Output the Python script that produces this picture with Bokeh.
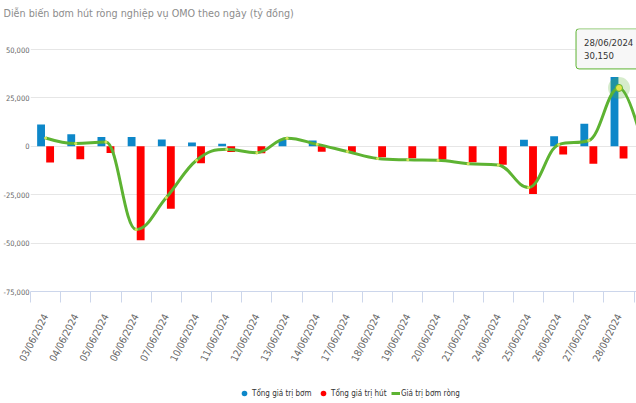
from bokeh.plotting import figure
from bokeh.layouts import column
from bokeh.models import (Range1d, FixedTicker, NumeralTickFormatter, Legend, LegendItem,
                          Label, ColumnDataSource)
from bokeh.embed import file_html
from bokeh.resources import INLINE

# ---------------- data ----------------
title_text = "Diễn biến bơm hút ròng nghiệp vụ OMO theo ngày (tỷ đồng)"
dates = ["03/06/2024", "04/06/2024", "05/06/2024", "06/06/2024", "07/06/2024",
         "10/06/2024", "11/06/2024", "12/06/2024", "13/06/2024", "14/06/2024",
         "17/06/2024", "18/06/2024", "19/06/2024", "20/06/2024", "21/06/2024",
         "24/06/2024", "25/06/2024", "26/06/2024", "27/06/2024", "28/06/2024",
         "01/07/2024"]
tong_bom = [11200, 6200, 4800, 4800, 3500, 2000, 1300, 0, 3400, 3000,
            0, 0, 0, 0, 0, 0, 3400, 5200, 11600, 35800, 0]
tong_hut = [-8400, -6700, -3400, -48500, -32200, -8800, -3000, -3600, 0, -2800,
            -3000, -5700, -6200, -6800, -8300, -9500, -24600, -4300, -9000, -6300, -13000]
bom_rong = [4300, 1400, 2200, -43000, -26500, -7200, -1500, -3300, 4200, 1000,
            -2700, -6300, -7000, -7200, -9000, -9700, -21300, 900, 3000, 30150, -13000]
y_ticks = [-75000, -50000, -25000, 0, 25000, 50000]
series_names = ["Tổng giá trị bơm", "Tổng giá trị hút", "Giá trị bơm ròng"]
highlight_date = "28/06/2024"

# ---------------- style ----------------
BLUE = "#0d87c9"
RED = "#ff0000"
GREEN = "#5db332"
FONT = "DejaVu Sans Condensed"

n = len(dates)
idx = list(range(n))

W = 636
H_TITLE, H_MAIN, H_LEG = 28, 344, 31
MB_LEFT = 27
TICK_SPAN_PX = 242
EXTRA_TOP_PX = 21
FRAME_H = TICK_SPAN_PX + EXTRA_TOP_PX
MB_BOTTOM = H_MAIN - FRAME_H
CAT_PX = 30.33
x_start = -0.5
x_end = x_start + (W - MB_LEFT) / CAT_PX
y_span = y_ticks[-1] - y_ticks[0]
y_end = y_ticks[-1] + EXTRA_TOP_PX * y_span / TICK_SPAN_PX

# ---- title strip ----
pt = figure(width=W, height=H_TITLE, output_backend="svg", toolbar_location=None,
            x_axis_location=None, y_axis_location=None,
            min_border_left=0, min_border_right=0, min_border_top=0, min_border_bottom=0,
            x_range=Range1d(0, 1), y_range=Range1d(0, 1))
pt.grid.visible = False
pt.outline_line_color = None
pt.title.text = title_text
pt.title.text_font = FONT
pt.title.text_font_size = "10.7px"
pt.title.text_font_style = "normal"
pt.title.text_color = "#8c8c8c"
pt.title.align = "left"
pt.title.offset = -27
pt.title.standoff = 8

# ---- main chart ----
p = figure(width=W, height=H_MAIN, output_backend="svg", toolbar_location=None,
           x_range=Range1d(x_start, x_end), y_range=Range1d(y_ticks[0], y_end),
           min_border_left=MB_LEFT, min_border_right=0, min_border_top=0,
           min_border_bottom=MB_BOTTOM)
p.outline_line_color = None
p.background_fill_color = "white"
p.border_fill_color = "white"

src = ColumnDataSource(dict(
    x=idx,
    xb=[i - 0.15 for i in idx],
    xr=[i + 0.15 for i in idx],
    bom=tong_bom, hut=tong_hut, net=bom_rong, date=dates))
p.vbar(x="xb", width=0.26, top="bom", bottom=0, source=src,
       fill_color=BLUE, line_color=None)
p.vbar(x="xr", width=0.26, top=0, bottom="hut", source=src,
       fill_color=RED, line_color=None)


def spline_segments(xs, ys, smoothing=1.5):
    denom = smoothing + 1
    right = [None] * len(xs)
    segs = dict(x0=[], y0=[], x1=[], y1=[], cx0=[], cy0=[], cx1=[], cy1=[])
    for i in range(len(xs)):
        x, y = xs[i], ys[i]
        lcx, lcy = x, y
        if 0 < i < len(xs) - 1:
            lx, ly = xs[i - 1], ys[i - 1]
            nx, ny = xs[i + 1], ys[i + 1]
            lcx = (smoothing * x + lx) / denom
            lcy = (smoothing * y + ly) / denom
            rcx = (smoothing * x + nx) / denom
            rcy = (smoothing * y + ny) / denom
            corr = 0
            if rcx != lcx:
                corr = (rcy - lcy) * (rcx - x) / (rcx - lcx) + y - rcy
            lcy += corr
            rcy += corr
            if lcy > ly and lcy > y:
                lcy = max(ly, y); rcy = 2 * y - lcy
            elif lcy < ly and lcy < y:
                lcy = min(ly, y); rcy = 2 * y - lcy
            if rcy > ny and rcy > y:
                rcy = max(ny, y); lcy = 2 * y - rcy
            elif rcy < ny and rcy < y:
                rcy = min(ny, y); lcy = 2 * y - rcy
            right[i] = (rcx, rcy)
        if i > 0:
            px_, py_ = xs[i - 1], ys[i - 1]
            c0 = right[i - 1] if right[i - 1] is not None else (px_, py_)
            segs["x0"].append(px_); segs["y0"].append(py_)
            segs["x1"].append(x); segs["y1"].append(y)
            segs["cx0"].append(c0[0]); segs["cy0"].append(c0[1])
            segs["cx1"].append(lcx); segs["cy1"].append(lcy)
    return segs


bz = ColumnDataSource(spline_segments(idx, bom_rong))
p.bezier(x0="x0", y0="y0", x1="x1", y1="y1", cx0="cx0", cy0="cy0",
         cx1="cx1", cy1="cy1", source=bz, line_color=GREEN, line_width=3)
p.scatter(x="x", y="net", source=src, size=3, fill_color="#d6e35a", line_color=None)

# highlighted point + tooltip
hi = dates.index(highlight_date)
p.scatter(x=[hi], y=[bom_rong[hi]], size=22, fill_color=GREEN, fill_alpha=0.25, line_color=None)
p.scatter(x=[hi], y=[bom_rong[hi]], size=7, fill_color="#e3e34a", line_color=GREEN, line_width=1)
tip = Label(x=hi, y=bom_rong[hi], x_offset=-43, y_offset=19, anchor="bottom_left",
            text=f"{highlight_date}\n{bom_rong[hi]:,}", text_font=FONT, text_font_size="9.5px",
            text_color="#333333", background_fill_color="#f7f7f7", background_fill_alpha=0.95,
            border_line_color=GREEN, border_line_width=1, border_radius=3, padding=8)
p.add_layout(tip)

# axes
p.xgrid.visible = False
p.xaxis.ticker = FixedTicker(ticks=idx, minor_ticks=[i - 0.5 for i in idx] + [n - 0.5])
p.xaxis.major_label_overrides = {i: d for i, d in enumerate(dates)}
p.xaxis.major_label_orientation = 1.1
p.xaxis.major_label_text_font = FONT
p.xaxis.major_label_text_font_size = "10px"
p.xaxis.major_label_text_color = "#666666"
p.xaxis.major_label_standoff = 12
p.xaxis.major_tick_line_color = None
p.xaxis.major_tick_out = 0
p.xaxis.major_tick_in = 0
p.xaxis.minor_tick_line_color = "#ccd6eb"
p.xaxis.minor_tick_out = 11
p.xaxis.minor_tick_in = 0
p.xaxis.axis_line_color = "#ccd6eb"

p.yaxis.ticker = FixedTicker(ticks=y_ticks)
p.yaxis.formatter = NumeralTickFormatter(format="0,0")
p.yaxis.major_label_text_font = FONT
p.yaxis.major_label_text_font_size = "7.5px"
p.yaxis.major_label_text_color = "#666666"
p.yaxis.major_label_standoff = 1
p.yaxis.axis_line_color = None
p.yaxis.major_tick_line_color = None
p.yaxis.minor_tick_line_color = None
p.yaxis.major_tick_out = 0
p.ygrid.ticker = FixedTicker(ticks=y_ticks)
p.ygrid.grid_line_color = "#e6e6e6"

# ---- legend strip (series drawn out of view, legend only) ----
pl = figure(width=W, height=H_LEG, output_backend="svg", toolbar_location=None,
            x_axis_location=None, y_axis_location=None,
            min_border_left=0, min_border_right=0, min_border_top=0, min_border_bottom=0,
            x_range=Range1d(-3, -2), y_range=Range1d(-3, -2))
pl.grid.visible = False
pl.outline_line_color = None
lg_bom = pl.scatter(x=idx, y=idx, marker="circle", fill_color=BLUE, line_color=None)
lg_hut = pl.scatter(x=idx, y=idx, marker="circle", fill_color=RED, line_color=None)
lg_net = pl.line(x=idx, y=idx, line_color=GREEN, line_width=3)

legend_specs = [  # (renderer, label, legend x, glyph width)
    (lg_bom, series_names[0], 207, 14),
    (lg_hut, series_names[1], 286, 14),
    (lg_net, series_names[2], 361, 9),
]
for rend, lab, lx, gw in legend_specs:
    lg = Legend(items=[LegendItem(label=lab, renderers=[rend])],
                orientation="horizontal", location=(lx, 2),
                glyph_width=gw, glyph_height=16, label_standoff=1, spacing=0,
                padding=2, margin=0, label_text_font=FONT, label_text_font_size="8px",
                label_text_color="#333333", background_fill_alpha=0, border_line_color=None)
    pl.add_layout(lg, "center")

layout = column(pt, p, pl, spacing=0)
open("out.html", "w").write(file_html(layout, INLINE))
